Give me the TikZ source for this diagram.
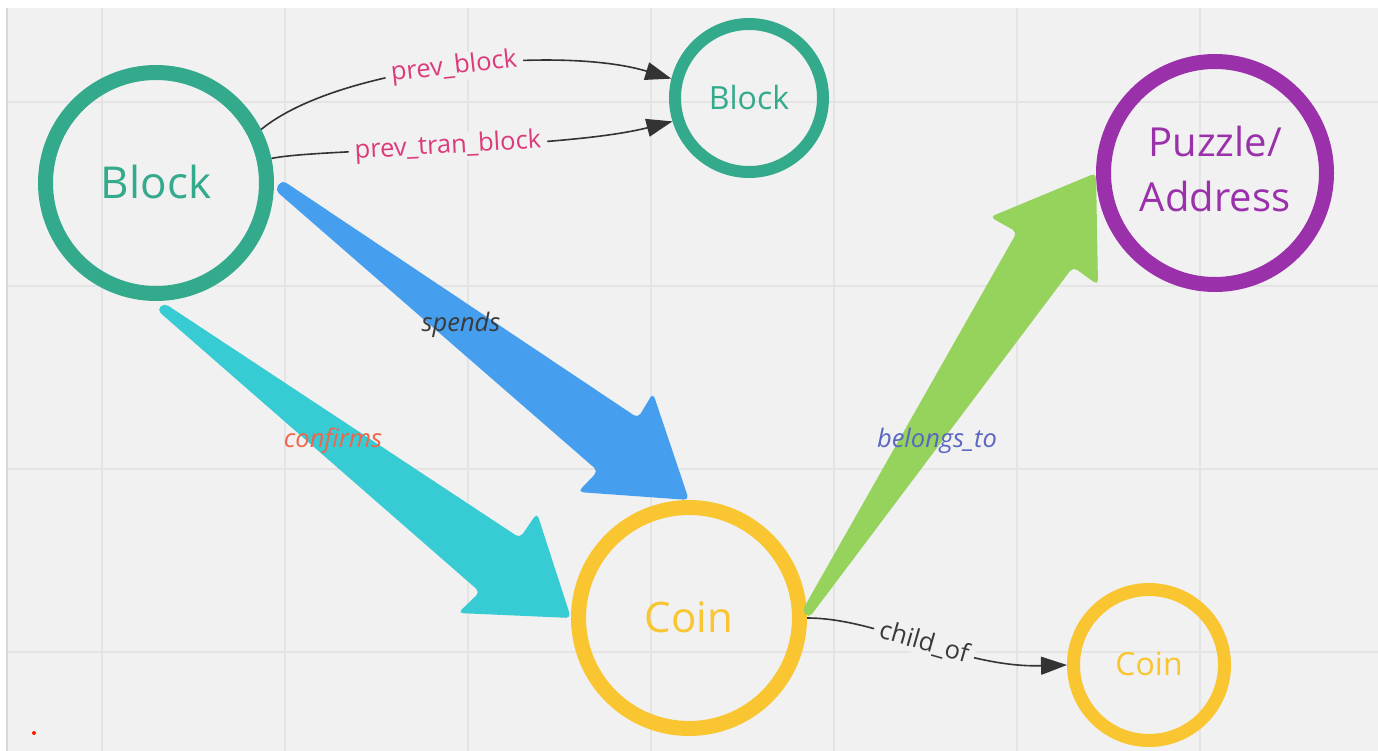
\documentclass[tikz,border=0pt]{standalone}
\usepackage{fontspec}
\setmainfont{Open Sans}
\usetikzlibrary{arrows.meta,calc}
\definecolor{bgc}{HTML}{F1F1F1}
\definecolor{gridc}{HTML}{E4E4E4}
\definecolor{edgec}{HTML}{D8D8D8}
\definecolor{blockc}{HTML}{34AA8D}
\definecolor{puzc}{HTML}{9A31AB}
\definecolor{coinc}{HTML}{F9C631}
\definecolor{spendc}{HTML}{459FEE}
\definecolor{confc}{HTML}{37CCD4}
\definecolor{belc}{HTML}{95D35C}
\definecolor{pinkc}{HTML}{DC3A7C}
\definecolor{orangec}{HTML}{F0654B}
\definecolor{indigoc}{HTML}{5A66C2}
\definecolor{darkc}{HTML}{3A3A3A}
\definecolor{linec}{HTML}{333333}
\begin{document}
\begin{tikzpicture}[x=1pt,y=-1pt,
  bubble/.style={circle, draw, inner sep=0pt, align=center},
  conn/.style={draw=linec, line width=1.6pt, -{Triangle[length=26pt,width=18pt]}},
  elab/.style={fill=bgc, inner xsep=6pt, inner ysep=1pt, font=\fontsize{25.5pt}{28pt}\selectfont},
  flab/.style={inner sep=1pt, font=\fontsize{25.5pt}{28pt}\selectfont\itshape},
  fat/.style={rounded corners=5pt}]
\useasboundingbox (0,0) rectangle (1378,751);
\fill[white] (0,0) rectangle (1378,751);
\fill[bgc] (7,8) rectangle (1378,751);
% grid
\foreach \gx in {102,285,468,651,834,1017,1200}
  \draw[gridc, line width=1.5pt] (\gx,8) -- (\gx,751);
\foreach \gy in {102,286,469,652}
  \draw[gridc, line width=1.5pt] (7,\gy) -- (1378,\gy);
\draw[edgec, line width=1.5pt] (7,8) -- (7,751);
\fill[red!80!orange] (34,733) circle (2pt);

% nodes
\node[bubble, draw=blockc, line width=15pt, minimum size=221pt, text=blockc,
      font=\fontsize{44pt}{48pt}\selectfont] (blk) at (156,183) {\raisebox{3pt}{Block}};
\node[bubble, draw=blockc, line width=12pt, minimum size=148pt, text=blockc,
      font=\fontsize{32pt}{36pt}\selectfont] (blk2) at (749,98) {Block};
\node[bubble, draw=puzc, line width=15pt, minimum size=223pt, text=puzc,
      font=\fontsize{40pt}{55pt}\selectfont] (puz) at (1215,173)
      {\raisebox{5pt}{\begin{tabular}{@{}c@{}}Puzzle/\\Address\end{tabular}}};
\node[bubble, draw=coinc, line width=15pt, minimum size=221pt, text=coinc,
      font=\fontsize{42pt}{46pt}\selectfont] (coin) at (689,618) {\raisebox{2pt}{Coin}};
\node[bubble, draw=coinc, line width=13pt, minimum size=151pt, text=coinc,
      font=\fontsize{32pt}{36pt}\selectfont] (coin2) at (1149,665) {\raisebox{2pt}{Coin}};

% fat arrows
\fill[fat, spendc] ($(blk.east)+(8,-3)$) -- (638,418) -- (653,393) -- (coin.north)
  -- (578,492) -- (598,471) -- ($(blk.east)+(1,7)$) -- cycle;
\fill[fat, confc] ($(blk.south)+(8,2)$) -- (520,538) -- (537,513) -- (coin.west)
  -- (458,613) -- (480,592) -- ($(blk.south)+(1,9)$) -- cycle;
\fill[fat, belc] ($(coin.east)+(-5,-7)$) -- (1017,232) -- (990,217) -- (puz.west)
  -- (1098,285) -- (1073,267) -- ($(coin.east)+(2,0)$) -- cycle;

\node[flab, text=darkc] (lspends) at (461,325) {spends};
\node[flab, text=orangec] (lconf) at (333,441) {confirms};
\node[flab, text=indigoc] (lbel) at (937,441) {belongs\_to};

% thin connectors
\draw[conn] (blk.27) .. controls (340,65) and (560,45) ..
  node[elab, sloped, text=pinkc] (lprev) {prev\_block} (blk2.166);
\draw[conn] (blk.12) .. controls (320,148) and (560,150) ..
  node[elab, sloped, text=pinkc] (lprevt) {prev\_tran\_block} (blk2.197);
\draw[conn] (coin.east) .. controls (880,618) and (960,668) ..
  node[elab, sloped, text=darkc] (lchild) {child\_of} (coin2.west);
\end{tikzpicture}
\end{document}
